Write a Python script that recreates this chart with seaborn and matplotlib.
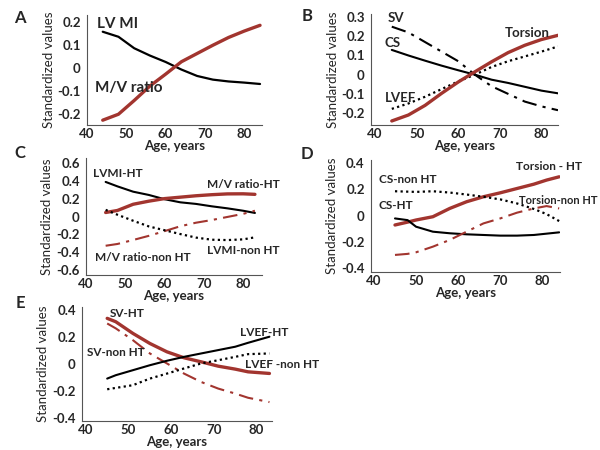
import numpy as np
import pandas as pd
import seaborn as sns
import matplotlib.pyplot as plt

sns.set_style('white')
plt.rcParams['font.family'] = ['Lato', 'DejaVu Sans']
plt.rcParams['font.weight'] = 'bold'

RED = '#A2352F'
DASHDOT = (0, (7, 3, 1.5, 3))
DOT = (0, (1, 1.5))

# ---- Panel A ----
age_a = [44, 48, 52, 56, 60, 64, 68, 72, 76, 80, 84]
lvmi_a = [0.157, 0.135, 0.085, 0.053, 0.025, -0.008, -0.036, -0.052, -0.060, -0.065, -0.071]
mv_a = [-0.229, -0.203, -0.143, -0.080, -0.028, 0.026, 0.062, 0.098, 0.132, 0.160, 0.185]

# ---- Panel B ----
age_b = [44, 48, 52, 56, 60, 64, 68, 72, 76, 80, 84]
sv_b = [0.250, 0.220, 0.170, 0.120, 0.070, 0.000, -0.060, -0.100, -0.140, -0.165, -0.185]
cs_b = [0.129, 0.100, 0.073, 0.047, 0.023, 0.000, -0.026, -0.043, -0.063, -0.083, -0.097]
lvef_b = [-0.178, -0.150, -0.115, -0.075, -0.035, 0.000, 0.040, 0.070, 0.095, 0.120, 0.147]
tors_b = [-0.241, -0.210, -0.160, -0.097, -0.038, 0.015, 0.067, 0.115, 0.153, 0.183, 0.205]

# ---- Panel C ----
age_c = [45, 48, 52, 56, 60, 64, 68, 72, 76, 80, 83]
lvmi_ht = [0.390, 0.340, 0.280, 0.243, 0.195, 0.160, 0.142, 0.115, 0.092, 0.065, 0.040]
mv_ht = [0.045, 0.068, 0.138, 0.173, 0.202, 0.218, 0.234, 0.246, 0.255, 0.256, 0.250]
mv_nonht = [-0.330, -0.310, -0.265, -0.218, -0.165, -0.110, -0.070, -0.040, -0.005, 0.030, 0.065]
lvmi_nonht = [0.075, 0.020, -0.048, -0.112, -0.155, -0.198, -0.238, -0.262, -0.266, -0.258, -0.235]

# ---- Panel D ----
age_d = [45, 48, 50, 54, 58, 62, 66, 70, 74, 78, 81, 84]
tors_ht = [-0.072, -0.050, -0.034, -0.009, 0.054, 0.105, 0.143, 0.173, 0.206, 0.239, 0.270, 0.295]
cs_nonht = [0.185, 0.182, 0.180, 0.185, 0.175, 0.160, 0.143, 0.123, 0.092, 0.050, 0.011, -0.042]
cs_ht = [-0.022, -0.035, -0.085, -0.123, -0.135, -0.143, -0.148, -0.153, -0.153, -0.148, -0.138, -0.128]
tors_nonht = [-0.300, -0.292, -0.280, -0.237, -0.186, -0.123, -0.060, -0.022, 0.022, 0.054, 0.072, 0.054]

# ---- Panel E ----
age_e = [45, 47, 51, 55, 59, 63, 67, 71, 75, 78, 83]
sv_ht = [0.338, 0.313, 0.227, 0.152, 0.090, 0.046, 0.016, -0.016, -0.038, -0.058, -0.070]
sv_nonht = [0.300, 0.264, 0.177, 0.078, 0.004, -0.071, -0.133, -0.182, -0.219, -0.250, -0.282]
lvef_ht = [-0.108, -0.083, -0.046, -0.009, 0.024, 0.053, 0.078, 0.103, 0.128, 0.157, 0.202]
lvef_nonht = [-0.187, -0.177, -0.157, -0.108, -0.071, -0.033, 0.004, 0.028, 0.053, 0.073, 0.078]

fig = plt.figure(figsize=(6, 4.5), dpi=100)

def make_ax(l, r, t, b, xlim, ylim, yticks):
    ax = fig.add_axes([l / 600, 1 - b / 450, (r - l) / 600, (b - t) / 450])
    ax.set_xlim(*xlim)
    ax.set_ylim(*ylim)
    ax.set_xticks([40, 50, 60, 70, 80])
    ax.set_yticks(yticks)
    ax.set_yticklabels(['0' if abs(v) < 1e-9 else f'{v:.1f}' for v in yticks])
    for s in ['top', 'right']:
        ax.spines[s].set_visible(False)
    for s in ['left', 'bottom']:
        ax.spines[s].set_color('#555555')
        ax.spines[s].set_linewidth(0.8)
    ax.tick_params(axis='both', labelsize=9.5, length=2.5, width=0.8, color='#555555', pad=2)
    ax.tick_params(axis='x', direction='in')
    ax.tick_params(axis='y', direction='out')
    return ax

def line(ax, x, y, color, lw, ls='-'):
    df = pd.DataFrame({'age': x, 'val': y})
    sns.lineplot(data=df, x='age', y='val', ax=ax, color=color, lw=lw, linestyle=ls)
    ax.set_xlabel('Age, years', fontsize=9.5, fontweight='bold', labelpad=0)
    ax.set_ylabel('Standardized values', fontsize=9.5, fontweight='normal', labelpad=2)

# A
axA = make_ax(87, 262, 15, 125, (40, 84.5), (-0.25, 0.23), [-0.2, -0.1, 0, 0.1, 0.2])
line(axA, age_a, lvmi_a, 'black', 1.6)
line(axA, age_a, mv_a, RED, 2.4)
axA.text(42.5, 0.19, 'LV MI', fontsize=11, va='center', ha='left')
axA.text(42.0, -0.088, 'M/V ratio', fontsize=11, va='center', ha='left')

# B
axB = make_ax(371, 558, 14, 125, (39, 84), (-0.262, 0.316), [-0.2, -0.1, 0, 0.1, 0.2, 0.3])
line(axB, age_b, sv_b, 'black', 1.5, DASHDOT)
line(axB, age_b, cs_b, 'black', 1.5)
line(axB, age_b, lvef_b, 'black', 1.6, DOT)
line(axB, age_b, tors_b, RED, 2.4)
axB.text(42.9, 0.295, 'SV', fontsize=9.5, va='center', ha='left')
axB.text(42.2, 0.164, 'CS', fontsize=9.5, va='center', ha='left')
axB.text(42.4, -0.123, 'LVEF', fontsize=9.5, va='center', ha='left')
axB.text(71.3, 0.218, 'Torsion', fontsize=9.5, va='center', ha='left')

# C
axC = make_ax(86, 262, 158, 275, (40, 84.8), (-0.66, 0.66), [-0.6, -0.4, -0.2, 0, 0.2, 0.4, 0.6])
line(axC, age_c, lvmi_ht, 'black', 1.5)
line(axC, age_c, mv_ht, RED, 2.4)
line(axC, age_c, mv_nonht, RED, 1.5, DASHDOT)
line(axC, age_c, lvmi_nonht, 'black', 1.6, DOT)
axC.text(41.7, 0.484, 'LVMI-HT', fontsize=8.5, va='center', ha='left')
axC.text(70.7, 0.364, 'M/V ratio-HT', fontsize=8.5, va='center', ha='left')
axC.text(42.2, -0.457, 'M/V ratio-non HT', fontsize=8.5, va='center', ha='left')
axC.text(70.9, -0.383, 'LVMI-non HT', fontsize=8.5, va='center', ha='left')

# D
axD = make_ax(371, 560, 160, 272, (39.3, 84.2), (-0.43, 0.423), [-0.4, -0.2, 0, 0.2, 0.4])
line(axD, age_d, tors_ht, RED, 2.4)
line(axD, age_d, cs_nonht, 'black', 1.6, DOT)
line(axD, age_d, cs_ht, 'black', 1.5)
line(axD, age_d, tors_nonht, RED, 1.5, DASHDOT)
axD.text(73.8, 0.373, 'Torsion - HT', fontsize=8.5, va='center', ha='left')
axD.text(41.2, 0.271, 'CS-non HT', fontsize=8.5, va='center', ha='left')
axD.text(41.2, 0.075, 'CS-HT', fontsize=8.5, va='center', ha='left')
axD.text(74.5, 0.111, 'Torsion-non HT', fontsize=8, va='center', ha='left')

# E
axE = make_ax(82, 272, 307, 421, (39.1, 83.6), (-0.422, 0.422), [-0.4, -0.2, 0, 0.2, 0.4])
line(axE, age_e, sv_ht, RED, 2.4)
line(axE, age_e, sv_nonht, RED, 1.5, DASHDOT)
line(axE, age_e, lvef_ht, 'black', 1.5)
line(axE, age_e, lvef_nonht, 'black', 1.6, DOT)
axE.text(45.6, 0.375, 'SV-HT', fontsize=8.5, va='center', ha='left')
axE.text(40.2, 0.087, 'SV-non HT', fontsize=8.5, va='center', ha='left')
axE.text(76.2, 0.232, 'LVEF-HT', fontsize=8.5, va='center', ha='left')
axE.text(77.2, 0.0, 'LVEF -non HT', fontsize=8.5, va='center', ha='left')

# panel letters
for lab, px, py in [('A', 20, 18), ('B', 307, 16), ('C', 20, 153), ('D', 307, 154), ('E', 20, 303)]:
    fig.text(px / 600, 1 - py / 450, lab, fontsize=12, fontweight='bold', ha='center', va='center')

fig.savefig('out.png', dpi=100)
